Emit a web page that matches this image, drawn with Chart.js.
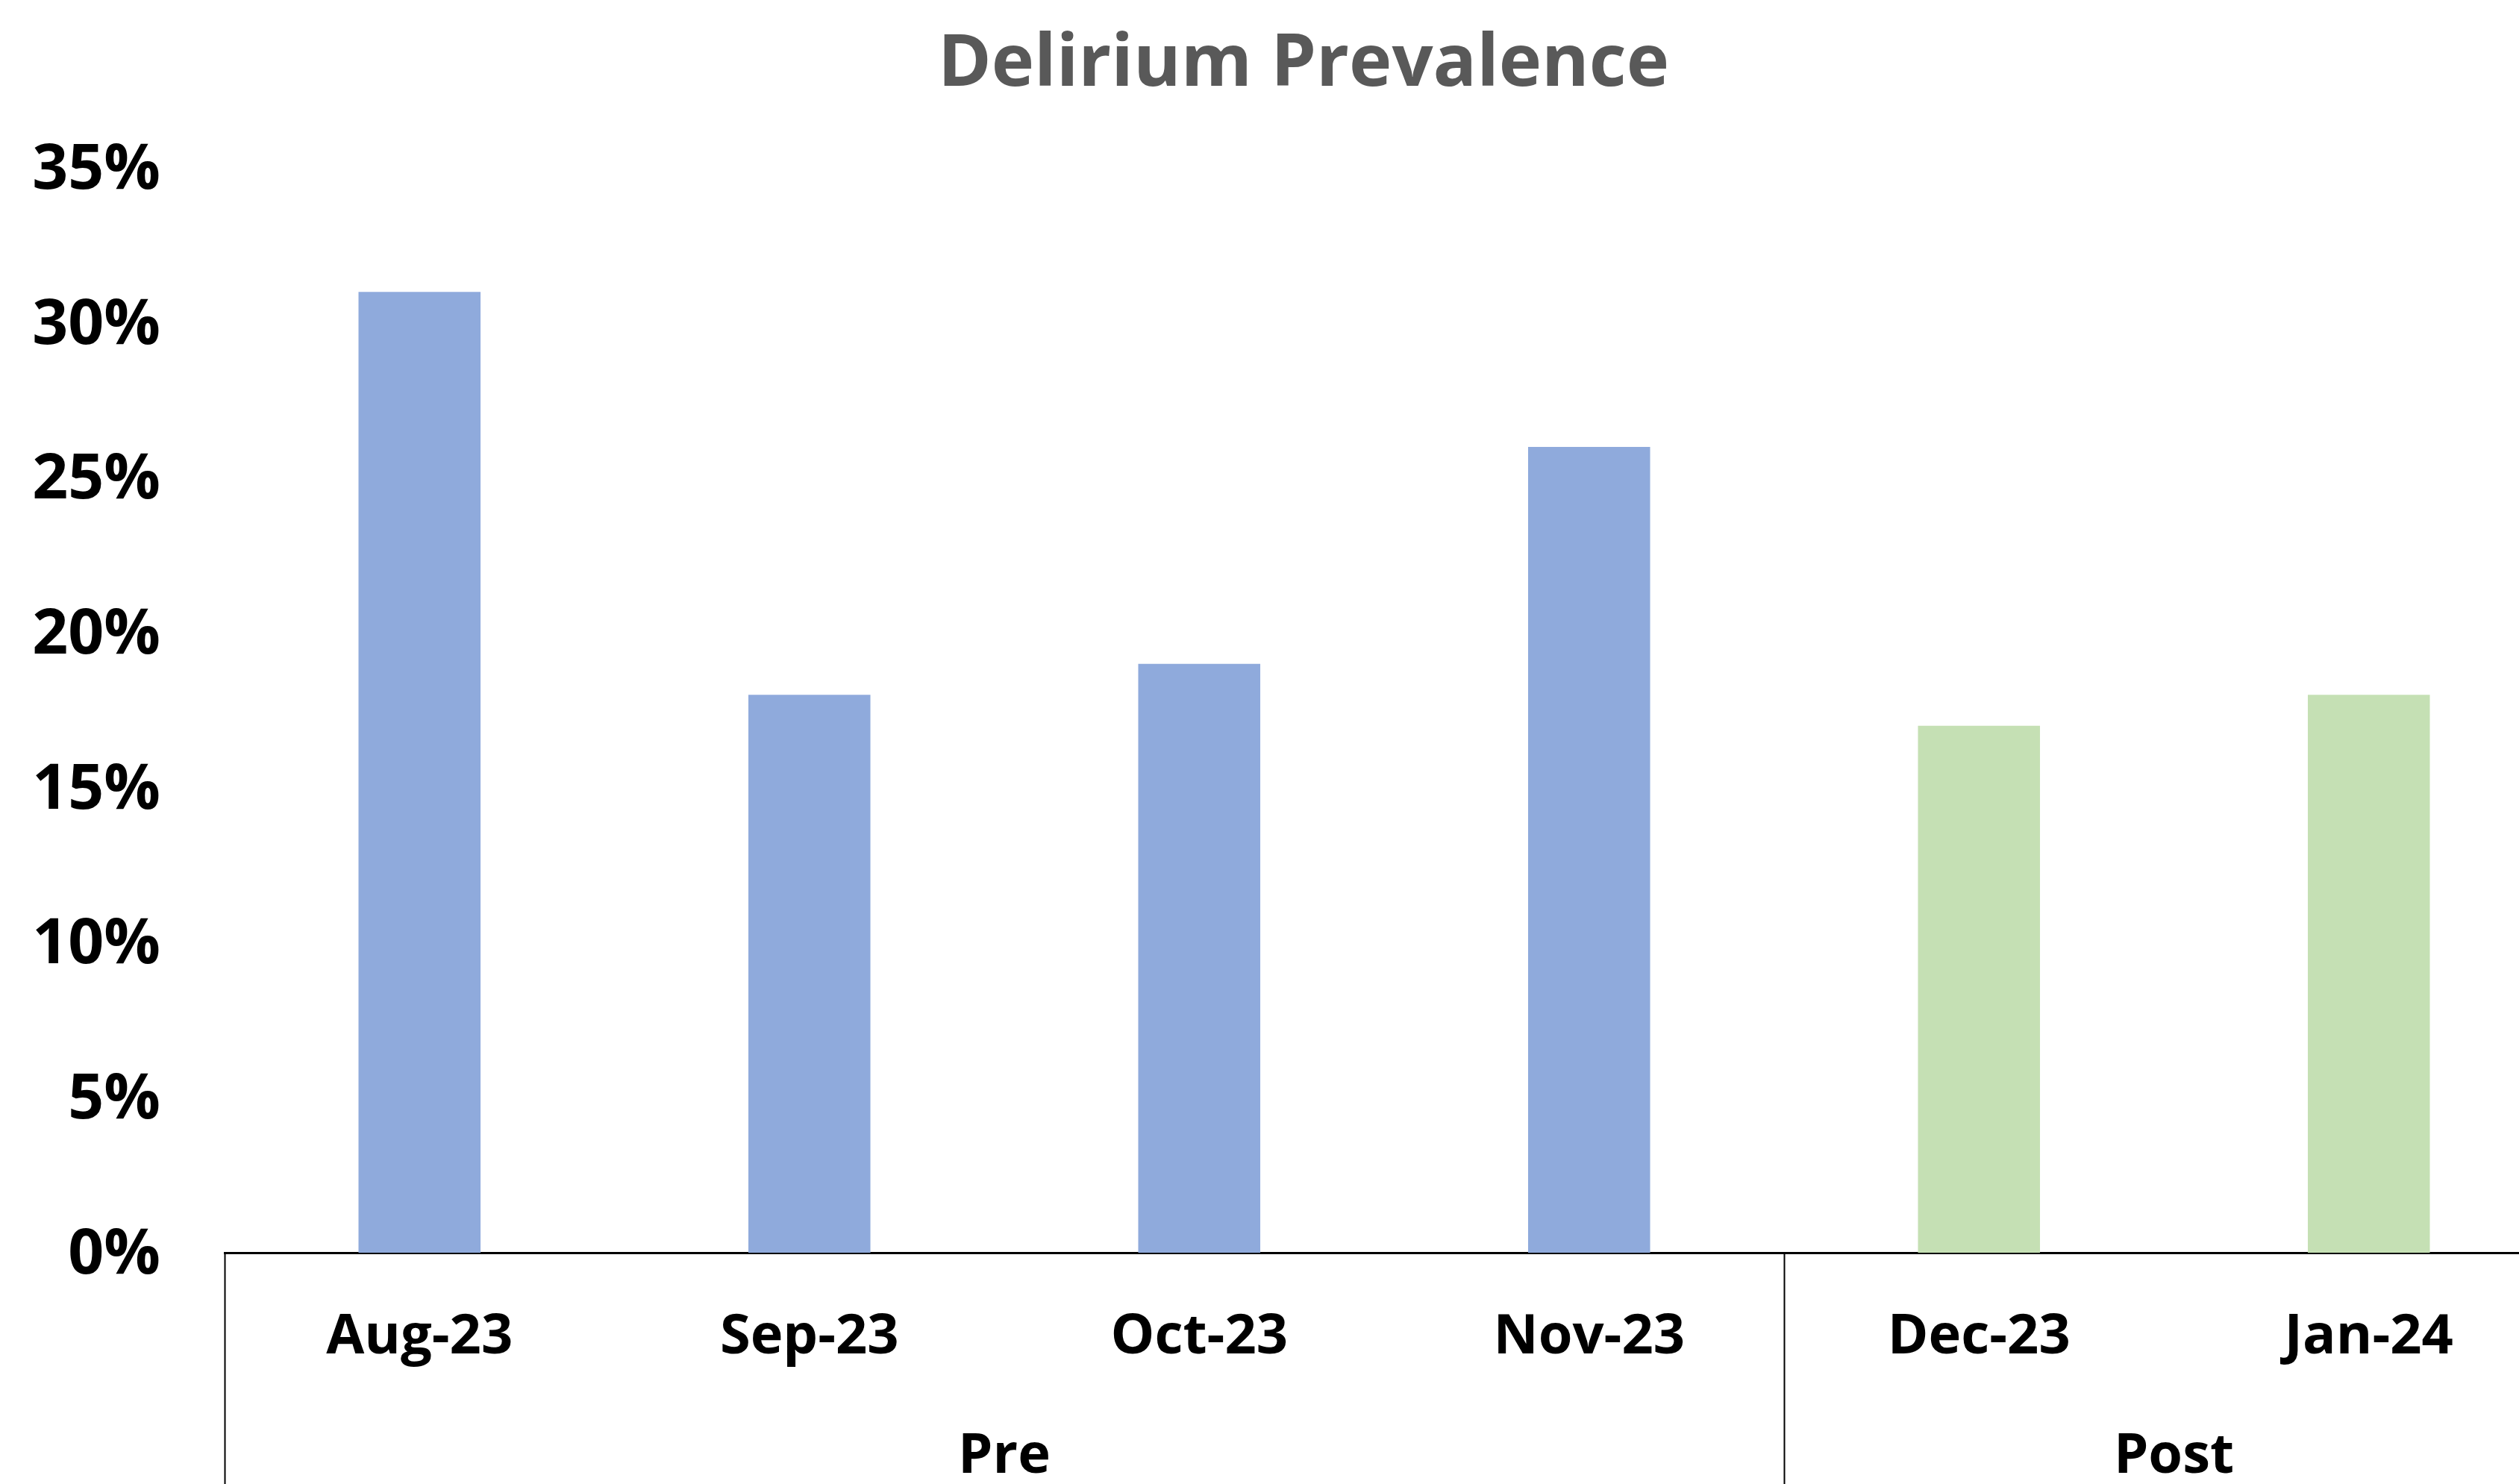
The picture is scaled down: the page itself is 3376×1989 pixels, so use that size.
<!DOCTYPE html>
<html>
<head>
<meta charset="utf-8">
<script src="https://cdn.jsdelivr.net/npm/chart.js@4.4.1/dist/chart.umd.min.js"></script>
<style>
  html, body { margin: 0; padding: 0; background: #ffffff; overflow: hidden; }
  canvas { display: block; }
</style>
</head>
<body>
<canvas id="chart" width="3494" height="2010"></canvas>
<script>
// Dados
const months = ["Aug-23", "Sep-23", "Oct-23", "Nov-23", "Dec-23", "Jan-24"];
const prevalence = [0.31, 0.18, 0.19, 0.26, 0.17, 0.18];
const phase = ["Pre", "Pre", "Pre", "Pre", "Post", "Post"];
const phaseNames = ["Pre", "Post"];
const yTicks = [0, 0.05, 0.10, 0.15, 0.20, 0.25, 0.30, 0.35];
const chartTitle = "Delirium Prevalence";

const phaseColors = { Pre: "#8FAADC", Post: "#C5E0B4" };
const FONT = "'Open Sans', 'Noto Sans', sans-serif";

// Título desenhado no centro do canvas
const titlePlugin = {
  id: "centerTitle",
  afterDraw(chart) {
    const ctx = chart.ctx;
    ctx.save();
    ctx.fillStyle = "#595959";
    ctx.font = "bold 97px " + FONT;
    ctx.textAlign = "center";
    ctx.textBaseline = "middle";
    ctx.fillText(chartTitle, chart.width / 2, 87);
    ctx.restore();
  }
};

// Plugin para os rótulos de grupo (Pre / Post) e linhas separadoras
const groupLabels = {
  id: "groupLabels",
  afterDraw(chart) {
    const x = chart.scales.x;
    const area = chart.chartArea;
    const ctx = chart.ctx;
    const half = (x.getPixelForValue(1) - x.getPixelForValue(0)) / 2;
    const bottom = chart.height;

    ctx.save();
    ctx.strokeStyle = "#000000";
    ctx.lineWidth = 2;
    ctx.fillStyle = "#000000";
    ctx.font = "bold 74px " + FONT;
    ctx.textAlign = "center";
    ctx.textBaseline = "middle";

    phaseNames.forEach(name => {
      const first = phase.indexOf(name);
      const last = phase.lastIndexOf(name);
      const start = x.getPixelForValue(first) - half;
      const end = x.getPixelForValue(last) + half;

      ctx.beginPath();
      ctx.moveTo(Math.round(start) + 0.5, area.bottom);
      ctx.lineTo(Math.round(start) + 0.5, bottom);
      ctx.stroke();

      ctx.fillText(name, (start + end) / 2, area.bottom + 274);
    });
    ctx.restore();
  }
};

new Chart(document.getElementById("chart").getContext("2d"), {
  type: "bar",
  data: {
    labels: months,
    datasets: [{
      label: chartTitle,
      data: prevalence,
      backgroundColor: phase.map(p => phaseColors[p]),
      borderWidth: 0,
      categoryPercentage: 1,
      barPercentage: 0.313
    }]
  },
  options: {
    responsive: false,
    animation: false,
    devicePixelRatio: 1,
    layout: { padding: { left: 0, right: 58, top: 225, bottom: 0 } },
    plugins: {
      legend: { display: false },
      tooltip: { enabled: false },
      title: { display: false }
    },
    scales: {
      x: {
        grid: { display: false, drawTicks: false },
        border: { display: true, color: "#000000", width: 3 },
        ticks: {
          color: "#000000",
          font: { family: FONT, size: 74, weight: "bold" },
          padding: 70,
          maxRotation: 0
        },
        afterFit(scale) { scale.height = 2010 - 1679; }
      },
      y: {
        min: 0,
        max: 0.35,
        grid: { display: false, drawTicks: false },
        border: { display: false },
        afterBuildTicks(scale) { scale.ticks = yTicks.map(v => ({ value: v })); },
        ticks: {
          color: "#000000",
          font: { family: FONT, size: 84, weight: "bold" },
          padding: 86,
          labelOffset: 4,
          callback: v => Math.round(v * 100) + "%"
        },
        afterFit(scale) { scale.width = 301; }
      }
    }
  },
  plugins: [groupLabels, titlePlugin]
});
</script>
</body>
</html>
